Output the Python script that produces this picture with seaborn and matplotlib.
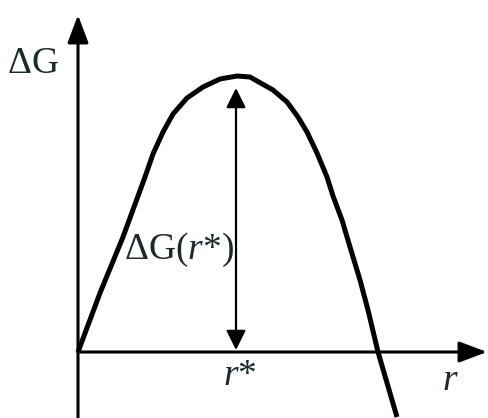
import matplotlib
matplotlib.use("Agg")
import matplotlib.pyplot as plt
import seaborn as sns
import pandas as pd

# Free-energy barrier curve ΔG(r): nucleus radius vs. free energy
radius = [0.00, 0.22, 0.45, 0.67, 0.75, 0.85, 0.95, 1.09, 1.25, 1.42,
          1.59, 1.72, 1.79, 1.95, 2.09, 2.20, 2.29, 2.39, 2.49, 2.55,
          2.64, 2.72, 2.82, 2.90, 3.00, 3.19]
delta_g = [0.00, 0.59, 1.15, 1.75, 1.98, 2.20, 2.38, 2.54, 2.65, 2.73,
           2.76, 2.75, 2.71, 2.62, 2.50, 2.35, 2.20, 1.99, 1.75, 1.56,
           1.32, 1.05, 0.72, 0.42, 0.00, -0.65]
r_star = 1.58          # critical radius
g_star = 2.64          # barrier height marked by the double arrow

sns.set_theme(style="white")
plt.rcParams["mathtext.fontset"] = "custom"
plt.rcParams["mathtext.rm"] = "Liberation Serif"
plt.rcParams["mathtext.it"] = "Liberation Serif:italic"
plt.rcParams["font.family"] = ["Liberation Serif", "DejaVu Serif"]

fig = plt.figure(figsize=(4.88, 4.18), dpi=100)
ax = fig.add_axes([0, 0, 1, 1])
ax.set_xlim(-0.78, 4.10)
ax.set_ylim(-0.66, 3.52)
ax.axis("off")

df = pd.DataFrame({"r": radius, "dG": delta_g})
sns.lineplot(data=df, x="r", y="dG", ax=ax, color="black", linewidth=3.6,
             sort=False, solid_capstyle="butt", solid_joinstyle="round")

axis_arrow = dict(arrowstyle="-|>,head_length=0.85,head_width=0.32",
                  color="black", lw=2.2, mutation_scale=20,
                  shrinkA=0, shrinkB=0)
# vertical (ΔG) axis
ax.annotate("", xy=(0, 3.37), xytext=(0, -0.66), arrowprops=axis_arrow)
# horizontal (r) axis
ax.annotate("", xy=(4.09, 0), xytext=(0, 0), arrowprops=axis_arrow)

# barrier height double arrow
ax.annotate("", xy=(r_star, g_star), xytext=(r_star, 0.02),
            arrowprops=dict(arrowstyle="<|-|>,head_length=0.6,head_width=0.3",
                            color="black", lw=1.6, mutation_scale=20,
                            shrinkA=0, shrinkB=0))

tc = "#1c2a30"
fs = 27
ax.text(-0.71, 2.88, r"$\Delta\mathrm{G}$", fontsize=fs, color=tc,
        ha="left", va="center")
ax.text(1.56, 1.02, r"$\Delta\mathrm{G}(r{*})$", fontsize=fs, color=tc,
        ha="right", va="center")
ax.text(r_star + 0.04, -0.24, r"$r{*}$", fontsize=fs, color=tc,
        ha="center", va="center")
ax.text(3.72, -0.29, r"$r$", fontsize=fs, color=tc,
        ha="center", va="center")

fig.savefig("out.png", dpi=100)
